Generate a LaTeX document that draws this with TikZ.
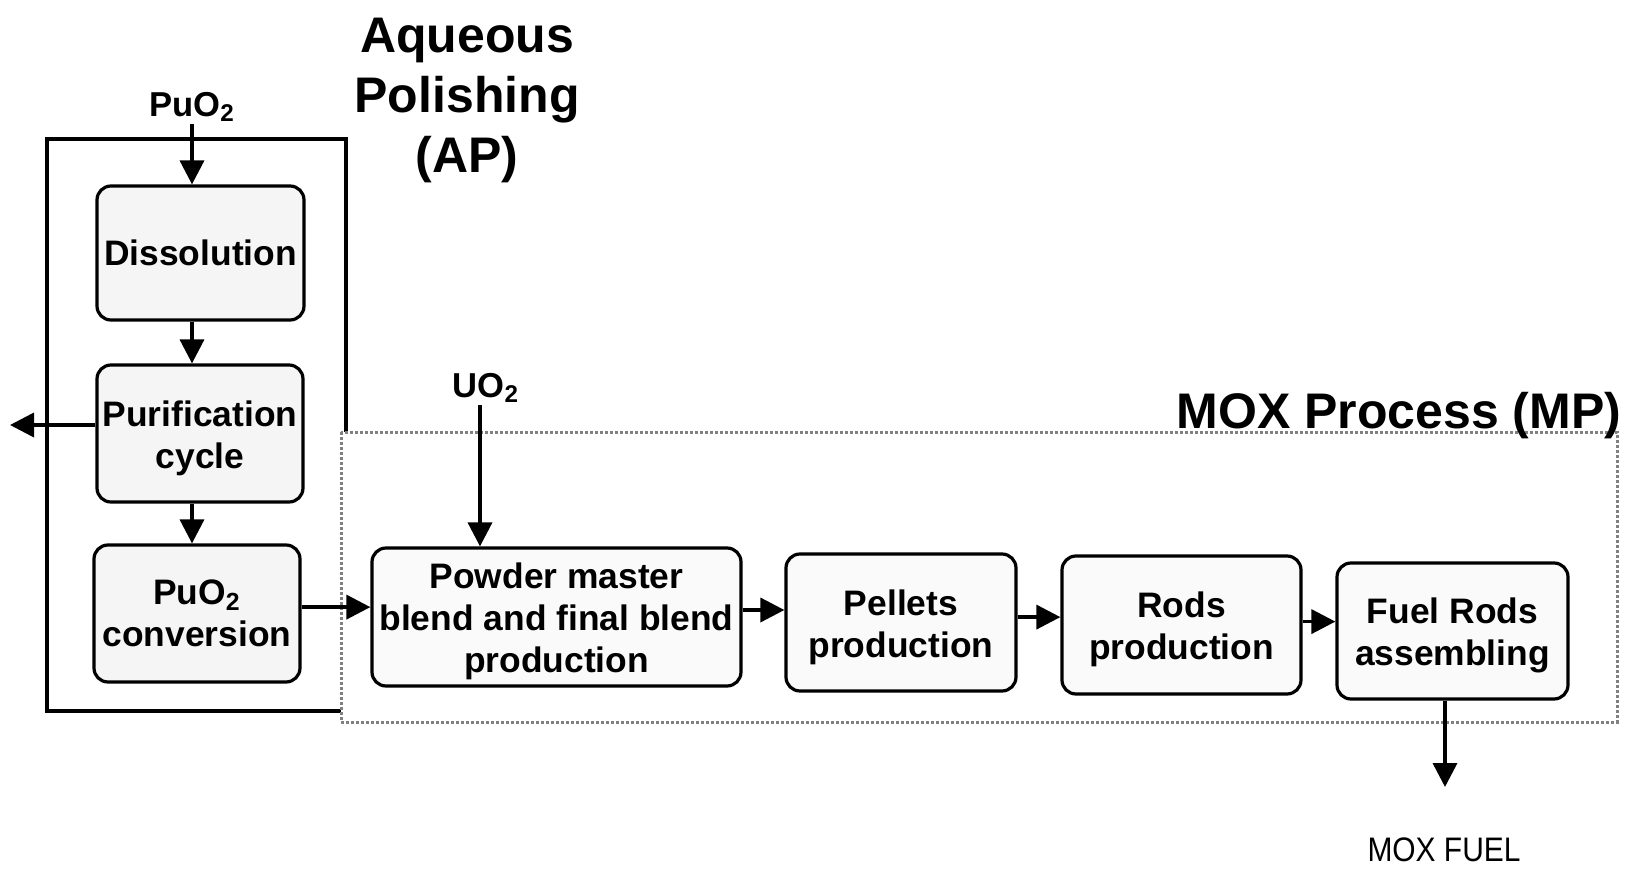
\documentclass[tikz,border=0pt]{standalone}
\usepackage{fontspec}
\setmainfont{Liberation Sans}
\newfontfamily\narrowfont[FakeStretch=0.88]{Liberation Sans}
\usetikzlibrary{arrows.meta}
\newcommand\upperfix{\rule{0pt}{17.5pt}}
\begin{document}
\begin{tikzpicture}[x=0.5pt,y=-0.5pt,
  proc/.style={draw, line width=1.6pt, rounded corners=7pt, fill=black!4,
    align=center, inner sep=0pt,
    font=\fontsize{17.7}{21}\selectfont\bfseries},
  lab/.style={inner sep=1pt, font=\fontsize{17.3}{20}\selectfont\bfseries},
  arr/.style={line width=1.8pt, -{Triangle[length=12pt,width=12pt]}},
  title/.style={align=center, font=\fontsize{25}{30}\selectfont\bfseries},
  apbox/.style={line width=2.2pt},
  mpbox/.style={draw=black!50, line width=1.5pt, densely dotted}]
\useasboundingbox[fill=white] (0,0) rectangle (1646,873);

% frames
\draw[apbox] (346,432) -- (346,139) -- (47,139) -- (47,711) -- (341,711);
\draw[mpbox] (341,432) rectangle (1617,722);

% titles
\node[title] (aptitle) at (467,100) {Aqueous\\Polishing\\(AP)};
\node[title, anchor=base] (mptitle) at (1399,428) {MOX Process (MP)};

% process boxes
\node[proc, minimum width=103.5pt, minimum height=67pt] (diss) at (200.5,253) {Dissolution};
\node[proc, minimum width=103pt, minimum height=68.5pt] (puri) at (200,433.5) {\upperfix Purification\\cycle};
\node[proc, minimum width=103pt, minimum height=68.5pt] (conv) at (197,613.5) {PuO\textsubscript{2}\\conversion};
\node[proc, fill=black!2, minimum width=184.5pt, minimum height=69pt] (powder) at (556.5,617) {\upperfix Powder master\\blend and final blend\\production};
\node[proc, fill=black!2, minimum width=115pt, minimum height=68.5pt] (pell) at (901,622.5) {\upperfix Pellets\\production};
\node[proc, fill=black!2, minimum width=119.5pt, minimum height=69pt] (rods) at (1181.5,625) {\upperfix Rods\\production};
\node[proc, fill=black!2, minimum width=115.5pt, minimum height=68pt] (fuel) at (1452.5,631) {\upperfix Fuel Rods\\assembling};

% inputs / outputs
\node[lab] (puo) at (192,107) {PuO\textsubscript{2}};
\node[lab] (uo) at (486,388) {UO\textsubscript{2}};
\node[font=\fontsize{17}{20}\selectfont\narrowfont] (mox) at (1444,850) {MOX FUEL};
\coordinate (out) at (10,425);
\coordinate (moxend) at (1445,787);

% connectors
\draw[arr] (puo.south) -- (puo.south |- diss.north);
\draw[arr] (diss.south -| puo.south) -- (puri.north -| puo.south);
\draw[arr] (puri.south -| puo.south) -- (conv.north -| puo.south);
\draw[arr] (puri.west |- out) -- (out);
\draw[arr] ([xshift=-3pt]uo.south) -- ([xshift=-3pt]uo.south |- powder.north);
\draw[arr] ([yshift=3.2pt]conv.east) -- ([yshift=3.2pt]conv.east -| powder.west);
\draw[arr] ([yshift=3.5pt]powder.east) -- ([yshift=3.5pt]powder.east -| pell.west);
\draw[arr] ([yshift=2.7pt]pell.east) -- ([yshift=2.7pt]pell.east -| rods.west);
\draw[arr] ([yshift=1.7pt]rods.east) -- ([yshift=1.7pt]rods.east -| fuel.west);
\draw[arr] (fuel.south -| moxend) -- (moxend);
\end{tikzpicture}
\end{document}
